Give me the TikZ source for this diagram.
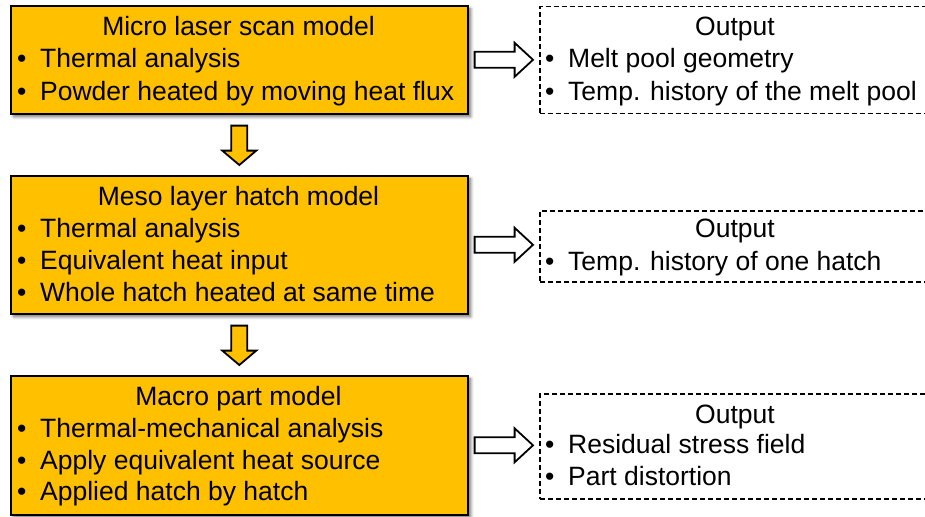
\documentclass[tikz,border=0pt]{standalone}
\usepackage{fontspec}
\setmainfont{Liberation Sans}
\usetikzlibrary{calc,shadows.blur}
\definecolor{gold}{HTML}{FFC000}

\tikzset{
  modelbox/.style={draw=black, line width=1.6pt, fill=gold, inner sep=0pt, anchor=north west,
    blur shadow={shadow xshift=3pt, shadow yshift=-3pt, shadow blur radius=3pt, shadow blur steps=6, shadow opacity=55}},
  outbox/.style={draw=black, line width=1.5pt, dash pattern=on 5pt off 3pt, fill=white, inner sep=0pt, anchor=north west},
  txt/.style={inner sep=0pt, anchor=base west, font=\fontsize{26.5}{32}\selectfont},
  ttl/.style={inner sep=0pt, anchor=base, font=\fontsize{26.5}{32}\selectfont},
  hollow/.style={draw=black, line width=1.8pt, fill=white, line join=miter},
  fatdown/.style={draw=black, line width=1.8pt, fill=gold, line join=miter}
}
\newcommand\bul[1]{\makebox[23pt][l]{\textbullet}#1}

% fat white arrow from a model box (#1) to its output box (#2)
\newcommand\hollowarrow[2]{%
  \draw[hollow] ($(#1.east)+(6,-8)$) -- ++(40,0) -- ++(0,-9) -- ($(#2.west|-#1.east)+(-6,0)$)
    -- ($(#1.east)+(46,17)$) -- ++(0,-9) -- ($(#1.east)+(6,8)$) -- cycle;}
% fat gold arrow pointing down from box #1 to box #2
\newcommand\downarrowfat[2]{%
  \draw[fatdown] ($(#1.south)+(-8,11)$) -- ++(16,0) -- ++(0,25) -- ++(9,0)
    -- ($(#2.north)+(0,-10)$) -- ($(#1.south)+(-17,36)$) -- ++(9,0) -- cycle;}

\begin{document}
\begin{tikzpicture}[x=1pt,y=-1pt]
\useasboundingbox (0,0) rectangle (925,516);
\clip (0,0) rectangle (925,516);

% model boxes
\node[modelbox, minimum width=457pt, minimum height=108pt] (m1) at (10,5) {};
\node[modelbox, minimum width=457pt, minimum height=138pt] (m2) at (10,175) {};
\node[modelbox, minimum width=457pt, minimum height=139pt] (m3) at (10,375) {};

% output boxes
\node[outbox, minimum width=392pt, minimum height=107pt] (o1) at (539,6) {};
\node[outbox, minimum width=392pt, minimum height=71pt] (o2) at (539,210) {};
\node[outbox, minimum width=392pt, minimum height=105pt] (o3) at (539,393) {};

% texts of the first level
\node[ttl] (m1t) at (238.5,36) {Micro laser scan model};
\node[txt] (m1a) at (17,68) {\bul{Thermal analysis}};
\node[txt] (m1b) at (17,100) {\bul{Powder heated by moving heat flux}};

\node[ttl] (o1t) at (735,36) {Output};
\node[txt] (o1a) at (545,68) {\bul{Melt pool geometry}};
\node[txt] (o1b) at (545,100) {\bul{Temp. history of the melt pool}};

% texts of the second level
\node[ttl] (m2t) at (238.5,205) {Meso layer hatch model};
\node[txt] (m2a) at (17,237) {\bul{Thermal analysis}};
\node[txt] (m2b) at (17,269) {\bul{Equivalent heat input}};
\node[txt] (m2c) at (17,301) {\bul{Whole hatch heated at same time}};

\node[ttl] (o2t) at (735,237) {Output};
\node[txt] (o2a) at (545,270) {\bul{Temp. history of one hatch}};

% texts of the third level
\node[ttl] (m3t) at (238.5,405) {Macro part model};
\node[txt] (m3a) at (17,437) {\bul{Thermal-mechanical analysis}};
\node[txt] (m3b) at (17,469) {\bul{Apply equivalent heat source}};
\node[txt] (m3c) at (17,500) {\bul{Applied hatch by hatch}};

\node[ttl] (o3t) at (735,423) {Output};
\node[txt] (o3a) at (545,453) {\bul{Residual stress field}};
\node[txt] (o3b) at (545,485) {\bul{Part distortion}};

% connectors
\hollowarrow{m1}{o1}
\hollowarrow{m2}{o2}
\hollowarrow{m3}{o3}
\downarrowfat{m1}{m2}
\downarrowfat{m2}{m3}
\end{tikzpicture}
\end{document}
